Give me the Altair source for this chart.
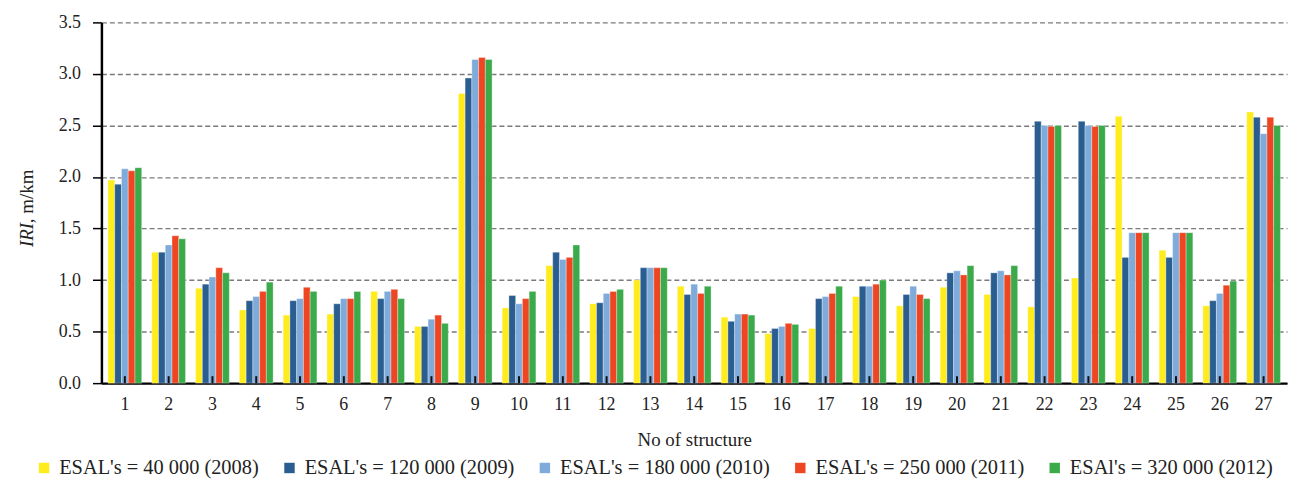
import altair as alt
import pandas as pd

structures = list(range(1, 28))
series = [
    "ESAL's = 40 000 (2008)",
    "ESAL's = 120 000 (2009)",
    "ESAL's = 180 000 (2010)",
    "ESAL's = 250 000 (2011)",
    "ESAl's = 320 000 (2012)",
]
colors = ["#FFEC1C", "#2A5E90", "#7FABDB", "#EE4623", "#3BAA4A"]

iri_2008 = [1.97, 1.27, 0.92, 0.71, 0.66, 0.67, 0.89, 0.55, 2.81, 0.73, 1.14, 0.77, 1.00, 0.94,
            0.64, 0.48, 0.53, 0.84, 0.75, 0.93, 0.86, 0.74, 1.02, 2.59, 1.29, 0.75, 2.63]
iri_2009 = [1.93, 1.27, 0.96, 0.80, 0.80, 0.77, 0.82, 0.55, 2.96, 0.85, 1.27, 0.78, 1.12, 0.86,
            0.60, 0.53, 0.82, 0.94, 0.86, 1.07, 1.07, 2.54, 2.54, 1.22, 1.22, 0.80, 2.58]
iri_2010 = [2.08, 1.34, 1.03, 0.84, 0.82, 0.82, 0.89, 0.62, 3.14, 0.77, 1.20, 0.87, 1.12, 0.96,
            0.67, 0.55, 0.84, 0.94, 0.94, 1.09, 1.09, 2.50, 2.50, 1.46, 1.46, 0.87, 2.42]
iri_2011 = [2.06, 1.43, 1.12, 0.89, 0.93, 0.82, 0.91, 0.66, 3.16, 0.82, 1.22, 0.89, 1.12, 0.87,
            0.67, 0.58, 0.87, 0.96, 0.86, 1.05, 1.05, 2.49, 2.49, 1.46, 1.46, 0.95, 2.58]
iri_2012 = [2.09, 1.40, 1.07, 0.98, 0.89, 0.89, 0.82, 0.58, 3.14, 0.89, 1.34, 0.91, 1.12, 0.94,
            0.66, 0.57, 0.94, 1.00, 0.82, 1.14, 1.14, 2.50, 2.50, 1.46, 1.46, 0.99, 2.50]

y_ticks = [0.0, 0.5, 1.0, 1.5, 2.0, 2.5, 3.0, 3.5]

all_values = [iri_2008, iri_2009, iri_2010, iri_2011, iri_2012]
rows = []
for s, vals in zip(series, all_values):
    for st, v in zip(structures, vals):
        rows.append({"structure": st, "series": s, "iri": v})
df = pd.DataFrame(rows)

FONT = "Liberation Serif, Times New Roman, DejaVu Serif, serif"
W, H = 1193, 363

xscale = alt.Scale(paddingInner=0.23, paddingOuter=0.15)

bars = alt.Chart(df).mark_bar(stroke="white", strokeWidth=0.4, strokeOpacity=0.8).encode(
    x=alt.X("structure:O", scale=xscale,
            axis=alt.Axis(title="No of structure", labelAngle=0, labelFontSize=18,
                          titleFontSize=19, titleFontWeight="normal", labelPadding=13,
                          titlePadding=17, ticks=False, domainColor="black",
                          domainWidth=2.5, labelColor="#222", titleColor="#222",
                          labelFont=FONT, titleFont=FONT)),
    xOffset=alt.XOffset("series:N", sort=series, scale=alt.Scale(paddingInner=0, paddingOuter=0)),
    y=alt.Y("iri:Q", scale=alt.Scale(domain=[0, 3.5], nice=False),
            axis=alt.Axis(title=None, values=y_ticks, format=".1f", labelFontSize=18,
                          tickSize=9, tickColor="black", tickWidth=1.5, labelPadding=12,
                          domainColor="black", domainWidth=2.5, labelColor="#222",
                          labelFont=FONT,
                          grid=True, gridDash=[5, 3], gridColor="#7a7a7a", gridWidth=1.4)),
    color=alt.Color("series:N", sort=series,
                    scale=alt.Scale(domain=series, range=colors),
                    legend=alt.Legend(title=None, orient="none", direction="horizontal",
                                      legendX=-68, legendY=438, symbolType="square",
                                      symbolSize=110, symbolStrokeWidth=0, labelFontSize=20.5,
                                      labelFont=FONT, labelColor="#222", columnPadding=20,
                                      labelOffset=5, padding=0, columns=5, labelLimit=400)),
)

tick_df = pd.DataFrame({"structure": structures})
xticks = alt.Chart(tick_df).mark_rule(color="#111", strokeWidth=2).encode(
    x=alt.X("structure:O", bandPosition=0.5),
    y=alt.value(H),
    y2=alt.value(H - 7),
)

t1 = alt.Chart(pd.DataFrame({"t": ["IRI"]})).mark_text(
    angle=270, align="left", baseline="middle", font=FONT, fontSize=19,
    fontStyle="italic", color="#222"
).encode(text="t:N", x=alt.value(-75), y=alt.value(226))

t2 = alt.Chart(pd.DataFrame({"t": [", m/km"]})).mark_text(
    angle=270, align="left", baseline="middle", font=FONT, fontSize=19, color="#222"
).encode(text="t:N", x=alt.value(-75), y=alt.value(202))

chart = alt.layer(bars, xticks, t1, t2).properties(
    width=W, height=H,
    autosize=alt.AutoSizeParams(type="none"),
    padding={"left": 94, "top": 13, "right": 2, "bottom": 96},
).configure_view(stroke=None).configure_axis(
    labelFont=FONT, titleFont=FONT
).configure_legend(labelFont=FONT).configure_text(font=FONT)

chart.save("out.html", embed_options={"renderer": "svg", "actions": False})
